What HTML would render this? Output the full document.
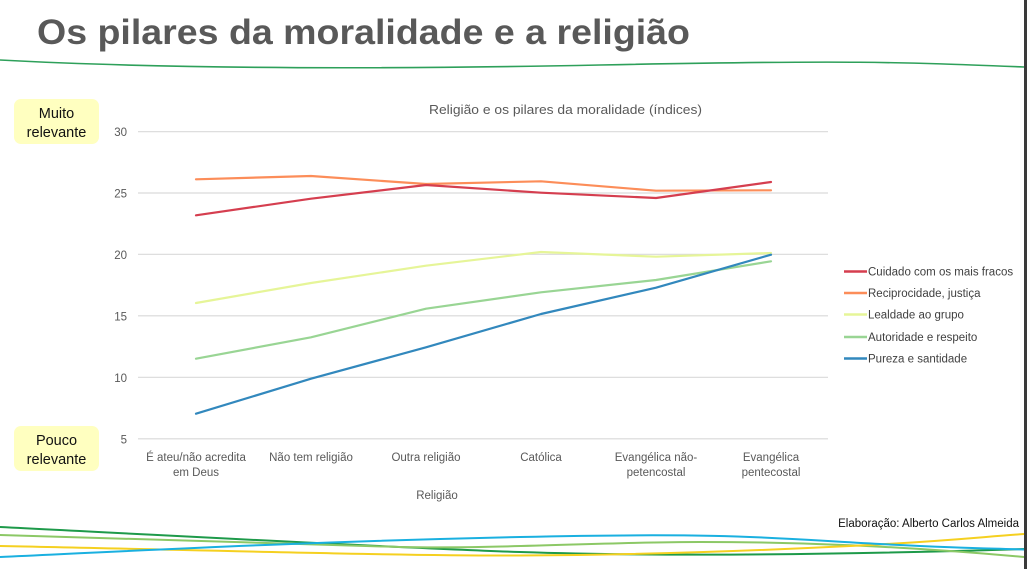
<!DOCTYPE html>
<html><head><meta charset="utf-8"><style>
html,body{margin:0;padding:0;background:#fff;}
svg{display:block;}
text{font-family:"Liberation Sans",sans-serif;}
</style></head><body>
<svg width="1027" height="569" viewBox="0 0 1027 569" xmlns="http://www.w3.org/2000/svg">
<rect x="0" y="0" width="1027" height="569" fill="#fff"/>
<rect x="1024" y="0" width="3" height="569" fill="#3a3a3a"/>
<text x="37" y="44" font-size="35" font-weight="bold" fill="#595959" textLength="653" lengthAdjust="spacingAndGlyphs">Os pilares da moralidade e a religião</text>
<path d="M0,60 C150,68 350,70 600,65 S900,62 1024,67" fill="none" stroke="#2ea05a" stroke-width="1.6"/>

<!-- side boxes -->
<rect x="14" y="99" width="85" height="45" rx="7" fill="#ffffc0"/>
<text x="56.5" y="118" font-size="14.5" fill="#111" text-anchor="middle">Muito</text>
<text x="56.5" y="137" font-size="14.5" fill="#111" text-anchor="middle">relevante</text>
<rect x="14" y="426" width="85" height="45" rx="7" fill="#ffffc0"/>
<text x="56.5" y="445" font-size="14.5" fill="#111" text-anchor="middle">Pouco</text>
<text x="56.5" y="464" font-size="14.5" fill="#111" text-anchor="middle">relevante</text>

<!-- chart title -->
<text x="429" y="114" font-size="13" fill="#595959" textLength="273" lengthAdjust="spacingAndGlyphs">Religião e os pilares da moralidade (índices)</text>

<!-- gridlines -->
<g stroke="#d9d9d9" stroke-width="1.2">
<line x1="138" y1="131.7" x2="828" y2="131.7"/>
<line x1="138" y1="193" x2="828" y2="193"/>
<line x1="138" y1="254.3" x2="828" y2="254.3"/>
<line x1="138" y1="315.8" x2="828" y2="315.8"/>
<line x1="138" y1="377.3" x2="828" y2="377.3"/>
<line x1="138" y1="438.8" x2="828" y2="438.8"/>
</g>
<g font-size="11.5" fill="#595959" text-anchor="end">
<text x="127" y="136">30</text>
<text x="127" y="197.5">25</text>
<text x="127" y="259">20</text>
<text x="127" y="320.5">15</text>
<text x="127" y="382">10</text>
<text x="127" y="443.5">5</text>
</g>

<!-- x labels -->
<g font-size="11.5" fill="#595959" text-anchor="middle">
<text x="196" y="461">É ateu/não acredita</text>
<text x="196" y="476">em Deus</text>
<text x="311" y="461">Não tem religião</text>
<text x="426" y="461">Outra religião</text>
<text x="541" y="461">Católica</text>
<text x="656" y="461">Evangélica não-</text>
<text x="656" y="476">petencostal</text>
<text x="771" y="461">Evangélica</text>
<text x="771" y="476">pentecostal</text>
<text x="437" y="499">Religião</text>
</g>

<!-- series -->
<g fill="none" stroke-width="2.2" stroke-linejoin="round" stroke-linecap="round">
<polyline stroke="#fc8d59" points="196,179.3 311,176 426,184 541,181.3 656,190.7 771,190.3"/>
<polyline stroke="#d53e4f" points="196,215.3 311,198.7 426,185 541,192.7 656,198 771,182"/>
<polyline stroke="#e6f598" points="196,303 311,283 426,265.7 541,252 656,256.7 771,253"/>
<polyline stroke="#99d594" points="196,358.7 311,337.3 426,308.7 541,292.3 656,280 771,261.3"/>
<polyline stroke="#3288bd" points="196,413.7 311,378.7 426,347.3 541,314 656,287.7 771,254.7"/>
</g>

<!-- legend -->
<g stroke-width="2.4">
<line x1="844" y1="271.5" x2="867" y2="271.5" stroke="#d53e4f"/>
<line x1="844" y1="293" x2="867" y2="293" stroke="#fc8d59"/>
<line x1="844" y1="314.5" x2="867" y2="314.5" stroke="#e6f598"/>
<line x1="844" y1="337" x2="867" y2="337" stroke="#99d594"/>
<line x1="844" y1="358.5" x2="867" y2="358.5" stroke="#3288bd"/>
</g>
<g font-size="11.5" fill="#404040">
<text x="868" y="275.5">Cuidado com os mais fracos</text>
<text x="868" y="297">Reciprocidade, justiça</text>
<text x="868" y="318.5">Lealdade ao grupo</text>
<text x="868" y="341">Autoridade e respeito</text>
<text x="868" y="362.5">Pureza e santidade</text>
</g>

<text x="1019" y="527" font-size="11.5" fill="#111" text-anchor="end">Elaboração: Alberto Carlos Almeida</text>

<!-- bottom waves -->
<g fill="none" stroke-width="2">
<path d="M0,527 C200,537 400,548 520,552 S800,556 1024,549" stroke="#1e9a4a"/>
<path d="M0,535 C150,540 300,545 400,547 S600,542 700,542 S900,546 1024,557" stroke="#8cc866"/>
<path d="M0,546 C200,550 400,556 520,555.5 S750,551 850,546 S980,537 1024,534" stroke="#f5d020"/>
<path d="M0,557 C150,550 300,542 520,537 S780,539 880,544 S980,548 1024,549.5" stroke="#1ab0e0"/>
</g>
</svg>
</body></html>
